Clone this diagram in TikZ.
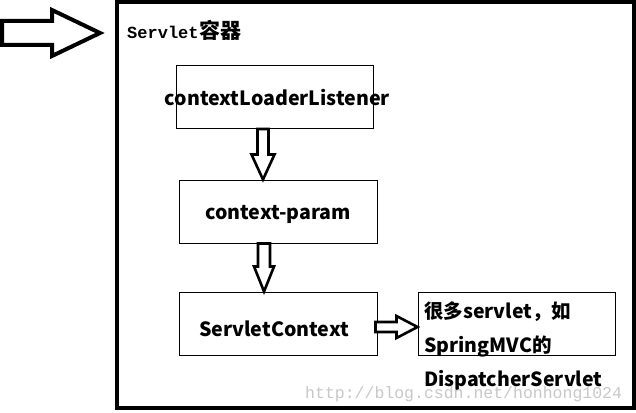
\documentclass[tikz,border=0pt]{standalone}
\usepackage{fontspec}
\usetikzlibrary{calc}
\newfontfamily\cjk{Noto Sans CJK SC}
\newfontfamily\monofnt{Liberation Mono}
\definecolor{wmgray}{RGB}{200,200,200}
\begin{document}
\begin{tikzpicture}[x=1pt,y=-1pt,
  box/.style={draw=black,line width=1pt,minimum width=197pt,minimum height=63pt,inner sep=0pt,font=\cjk\bfseries\fontsize{19.6}{22}\selectfont},
  hollow/.style={draw=black,line width=2.6pt,fill=white,line join=miter},
  bigarrow/.style={draw=black,line width=4pt,fill=white,line join=miter}]
\useasboundingbox (0,0) rectangle (636,412);
\fill[white] (0,0) rectangle (636,412);
% container
\node[draw=black,line width=4pt,minimum width=517pt,minimum height=406pt,inner sep=0pt,anchor=north west] (cont) at (115,0) {};
\node[anchor=base west,inner sep=0pt] (title) at (127,38) {{\monofnt\bfseries\fontsize{17}{20}\selectfont Servlet}\hspace{1pt}{\cjk\bfseries\fontsize{21}{20}\selectfont 容器}};
% big arrow
\draw[bigarrow] (2,21) -- (52,21) -- (52,10) -- (100,33) -- (52,56) -- (52,45) -- (2,45) -- cycle;
% boxes
\node[box] (b1) at (274.5,97) {\makebox[0pt]{\hspace*{6pt}contextLoaderListener}};
\node[box,minimum width=198pt] (b2) at (278,211.5) {\raisebox{-2.5pt}[\height][\depth]{context-param}};
\node[box,minimum width=198pt] (b3) at (278,323.5) {\hspace*{-8pt}\raisebox{-5pt}[\height][\depth]{ServletContext}};
\node[box] (b4) at (516.5,323.5) {};
\node[anchor=north west,inner sep=0pt,align=left,font=\cjk\bfseries\fontsize{19.5}{34}\selectfont] (t4) at (424,302) {很多servlet，如\\SpringMVC的\\DispatcherServlet};
% hollow arrows
\coordinate (a1s) at ([xshift=-11.5pt]b1.south);
\coordinate (a1e) at ([xshift=-11.5pt]b2.north);
\draw[hollow] let \p1=(a1s), \p2=(a1e) in
  (\x1-5.5pt,\y1) -- (\x1+5.5pt,\y1) -- (\x1+5.5pt,\y2+25pt) -- (\x1+11.5pt,\y2+25pt)
  -- (\x1,\y2) -- (\x1-11.5pt,\y2+25pt) -- (\x1-5.5pt,\y2+25pt) -- cycle;
\coordinate (a2s) at ([xshift=-14pt]b2.south);
\coordinate (a2e) at ([xshift=-14pt]b3.north);
\draw[hollow] let \p1=(a2s), \p2=(a2e) in
  (\x1-6pt,\y1) -- (\x1+6pt,\y1) -- (\x1+6pt,\y2+25pt) -- (\x1+10pt,\y2+25pt)
  -- (\x1,\y2) -- (\x1-10pt,\y2+25pt) -- (\x1-6pt,\y2+25pt) -- cycle;
\coordinate (a3s) at ([yshift=-3.5pt]b3.east);
\coordinate (a3e) at ([yshift=-3.5pt]b4.west);
\draw[hollow] let \p1=(a3s), \p2=(a3e) in
  (\x1-2pt,\y1+5pt) -- (\x2-21pt,\y1+5pt) -- (\x2-21pt,\y1+11pt) -- (\x2,\y1)
  -- (\x2-21pt,\y1-11pt) -- (\x2-21pt,\y1-5pt) -- (\x1-2pt,\y1-5pt) -- cycle;
% watermark
\node[anchor=base west,inner sep=0pt,text=wmgray,font=\monofnt\fontsize{16.5}{18}\selectfont] (wm) at (305,398) {http://blog.csdn.net/honhong1024};
\end{tikzpicture}
\end{document}
